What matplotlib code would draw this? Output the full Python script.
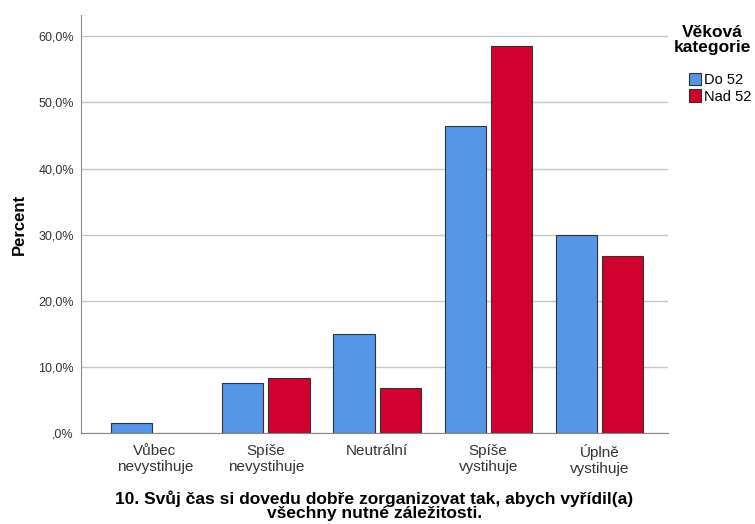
import matplotlib.pyplot as plt
import matplotlib.ticker as mticker
import numpy as np

plt.rcParams['font.family'] = ['Liberation Sans', 'DejaVu Sans']

categories = ['Vůbec\nnevystihuje', 'Spíše\nnevystihuje', 'Neutrální', 'Spíše\nvystihuje', 'Úplně\nvystihuje']
do52 = [1.5, 7.5, 15.0, 46.4, 29.9]
nad52 = [0.0, 8.3, 6.8, 58.5, 26.7]
series_names = ['Do 52', 'Nad 52']
colors = ['#5596E6', '#D2002F']


def pct(v, p):
    s = ('%.1f%%' % v).replace('.', ',')
    return s[1:] if v == 0 else s


fig = plt.figure(figsize=(7.55, 5.24), dpi=100)
ax = fig.add_axes([0.107, 0.174, 0.778, 0.797])

x = np.arange(len(categories))
w = 0.37
gap = 0.045
ax.bar(x - w/2 - gap/2, do52, w, color=colors[0], edgecolor='#333333', linewidth=0.8, label=series_names[0], zorder=3)
ax.bar(x + w/2 + gap/2, nad52, w, color=colors[1], edgecolor='#333333', linewidth=0.8, label=series_names[1], zorder=3)

ax.set_xlim(-0.667, 4.62)
ax.set_ylim(0, 63.2)
ax.set_yticks(np.arange(0, 61, 10))
ax.yaxis.set_major_formatter(mticker.FuncFormatter(pct))
ax.grid(axis='y', color='#c8c8c8', linewidth=1, zorder=0)
ax.tick_params(axis='both', length=0, colors='#333333')
ax.tick_params(axis='y', labelsize=9, pad=5)
ax.tick_params(axis='x', labelsize=11, pad=8)
ax.set_xticks(x)
ax.set_xticklabels(categories)
for s in ['top', 'right']:
    ax.spines[s].set_visible(False)
ax.spines['left'].set_color('#888888')
ax.spines['bottom'].set_color('#888888')

ax.set_ylabel('Percent', fontsize=12, fontweight='bold', labelpad=8)
ax.set_xlabel('10. Svůj čas si dovedu dobře zorganizovat tak, abych vyřídil(a)\nvšechny nutné záležitosti.',
              fontsize=12.5, fontweight='bold', labelpad=10, linespacing=0.95)

fig.text(0.943, 0.952, 'Věková\nkategorie', ha='center', va='top', fontsize=12.5, fontweight='bold', linespacing=0.95)
leg = fig.legend(loc='upper left', bbox_to_anchor=(0.903, 0.875), frameon=False, fontsize=10.5,
                 handlelength=0.85, handleheight=0.95, handletextpad=0.15, labelspacing=0.15, borderpad=0)

fig.savefig('out.png', dpi=100)
